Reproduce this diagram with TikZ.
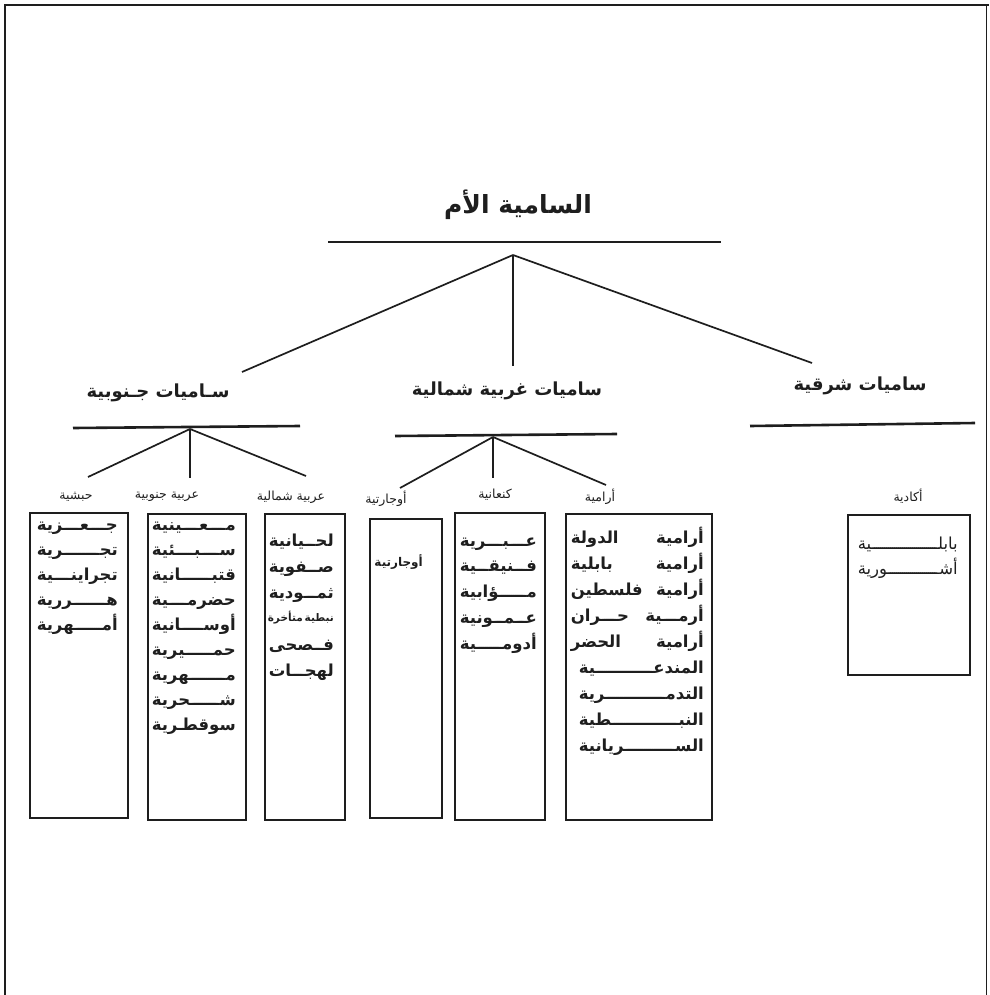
\documentclass[tikz,border=0pt]{standalone}
\usepackage{fontspec}
\newfontfamily\arabicfont[Script=Arabic]{DejaVu Sans}
\TeXXeTstate=1
\newcommand\artxt[1]{\beginR #1\endR}
% kashida filler that stretches inside a justified word
\newcommand\tw{\char"200D\relax\leaders\hbox to 2pt{\hss ـ\hss}\hfill\char"200D\relax}
% a justified Arabic line of a given width
\newcommand\jl[2]{\hbox to #1{\beginR #2\endR}}
\definecolor{ink}{HTML}{1E1E1E}
\tikzset{
  bar/.style={line width=2.6pt, draw=ink},
  link/.style={line width=1.7pt, draw=ink},
  boxn/.style={line width=1.6pt, draw=ink, inner sep=0pt},
  frame/.style={draw=ink},
  titlen/.style={font=\arabicfont\bfseries\fontsize{25}{30}\selectfont, text=ink, inner sep=0pt},
  branch/.style={font=\arabicfont\bfseries\fontsize{18}{22}\selectfont, text=ink, inner sep=0pt},
  subl/.style={font=\arabicfont\fontsize{12.5}{14}\selectfont, text=ink, inner sep=0pt},
  item/.style={font=\arabicfont\bfseries\fontsize{16.5}{20}\selectfont, text=ink, anchor=base east, inner sep=0pt},
  itemr/.style={item, font=\arabicfont\fontsize{16.5}{20}\selectfont}
}
\begin{document}
\begin{tikzpicture}[x=1pt,y=-1pt]
\useasboundingbox (0,0) rectangle (989,995);
% frame
\draw[frame, line width=2.2pt] (5,995) -- (5,5) -- (989,5);
\draw[frame, line width=1pt] (986,5) -- (986,995);

% title
\node[titlen] (root) at (518,205) {\artxt{السامية الأم}};
\coordinate (rootL) at (328,242);
\coordinate (rootR) at (721,242);
\draw[bar] (rootL) -- (rootR);
\coordinate (rootA) at (513,255);
\coordinate (toS) at (242,372);
\coordinate (toW) at (513,366);
\coordinate (toE) at (812,363);
\draw[link] (rootA) -- (toS);
\draw[link] (rootA) -- (toW);
\draw[link] (rootA) -- (toE);

% branches
\node[branch] (south) at (158,393) {\artxt{سـاميات جـنوبية}};
\node[branch] (west) at (507,391) {\artxt{ساميات غربية شمالية}};
\node[branch] (east) at (860,386) {\artxt{ساميات شرقية}};

\coordinate (sL) at (73,428); \coordinate (sR) at (300,426);
\coordinate (wL) at (395,436); \coordinate (wR) at (617,434);
\coordinate (eL) at (750,426); \coordinate (eR) at (975,423);
\draw[bar] (sL) -- (sR);
\draw[bar] (wL) -- (wR);
\draw[bar] (eL) -- (eR);

\coordinate (sA) at (190,429);
\coordinate (s1) at (88,477); \coordinate (s2) at (190,478); \coordinate (s3) at (306,476);
\draw[link] (sA) -- (s1); \draw[link] (sA) -- (s2); \draw[link] (sA) -- (s3);
\coordinate (wA) at (493,437);
\coordinate (w1) at (400,488); \coordinate (w2) at (493,478); \coordinate (w3) at (606,485);
\draw[link] (wA) -- (w1); \draw[link] (wA) -- (w2); \draw[link] (wA) -- (w3);

% sub labels
\node[subl] (l1) at (76,497) {\artxt{حبشية}};
\node[subl] (l2) at (167,497) {\artxt{عربية جنوبية}};
\node[subl] (l3) at (291,497) {\artxt{عربية شمالية}};
\node[subl] (l4) at (386,499) {\artxt{أوجارتية}};
\node[subl] (l5) at (495,495) {\artxt{كنعانية}};
\node[subl] (l6) at (600,497) {\artxt{أرامية}};
\node[subl] (l7) at (908,496) {\artxt{أكادية}};

% boxes
\node[boxn, minimum width=98pt, minimum height=305pt] (b1) at (79,665.5) {};
\node[boxn, minimum width=98pt, minimum height=306pt] (b2) at (197,667) {};
\node[boxn, minimum width=80pt, minimum height=306pt] (b3) at (305,667) {};
\node[boxn, minimum width=72pt, minimum height=299pt] (b4) at (406,668.5) {};
\node[boxn, minimum width=90pt, minimum height=307pt] (b5) at (500,666.5) {};
\node[boxn, minimum width=146pt, minimum height=306pt] (b6) at (639,667) {};
\node[boxn, minimum width=122pt, minimum height=160pt] (b7) at (909,595) {};

% box contents
\foreach \t [count=\i from 0] in {{ج\tw ع\tw زية}, {تج\tw رية}, {تجراين\tw ية}, {ه\tw ررية}, {أم\tw هرية}}
  \node[item] (ta\i) at (118,530+25*\i) {\jl{81pt}{\t}};
\foreach \t [count=\i from 0] in {{م\tw ع\tw ينية}, {س\tw ب\tw ئية}, {قتب\tw انية}, {حضرم\tw ية}, {أوس\tw انية}, {حم\tw يرية}, {م\tw هرية}, {ش\tw حرية}, {سوقط\tw رية}}
  \node[item] (tb\i) at (236,530+25*\i) {\jl{84pt}{\t}};
\foreach \t [count=\i from 0] in {{لح\tw يانية}, {ص\tw فوية}, {ثم\tw ودية}}
  \node[item] (tc\i) at (334,546+26*\i) {\jl{65pt}{\t}};
\foreach \t [count=\i from 4] in {{ف\tw صحى}, {لهج\tw ات}}
  \node[item] (tc\i) at (334,546+26*\i) {\jl{65pt}{\t}};
\node[item, font=\arabicfont\bfseries\fontsize{10.5}{12}\selectfont] (tc3) at (334,621) {\jl{66pt}{نبطية\hfill متأخرة}};
\node[item, font=\arabicfont\bfseries\fontsize{12}{14}\selectfont] (td) at (423,566) {\artxt{أوجارتية}};
\foreach \t [count=\i from 0] in {{ع\tw ب\tw رية}, {ف\tw نيق\tw ية}, {م\tw ؤابية}, {ع\tw م\tw ونية}, {أدوم\tw ية}}
  \node[item] (te\i) at (537,546+25.75*\i) {\jl{77pt}{\t}};
\foreach \t [count=\i from 0] in {{أرامية\hfill الدولة}, {أرامية\hfill بابلية}, {أرامية\hfill فلسطين}, {أرم\tw ية\hfill ح\tw ران}, {أرامية\hfill الحضر}}
  \node[item] (tf\i) at (704,543+26*\i) {\jl{133pt}{\t}};
\foreach \t [count=\i from 5] in {{المندع\tw ية}, {التدم\tw رية}, {النب\tw طية}, {الس\tw ريانية}}
  \node[item] (tf\i) at (704,543+26*\i) {\jl{125pt}{\t}};
\foreach \t [count=\i from 0] in {{بابل\tw ية}, {أش\tw ورية}}
  \node[itemr] (tg\i) at (958,549+25*\i) {\jl{100pt}{\t}};
\end{tikzpicture}
\end{document}
